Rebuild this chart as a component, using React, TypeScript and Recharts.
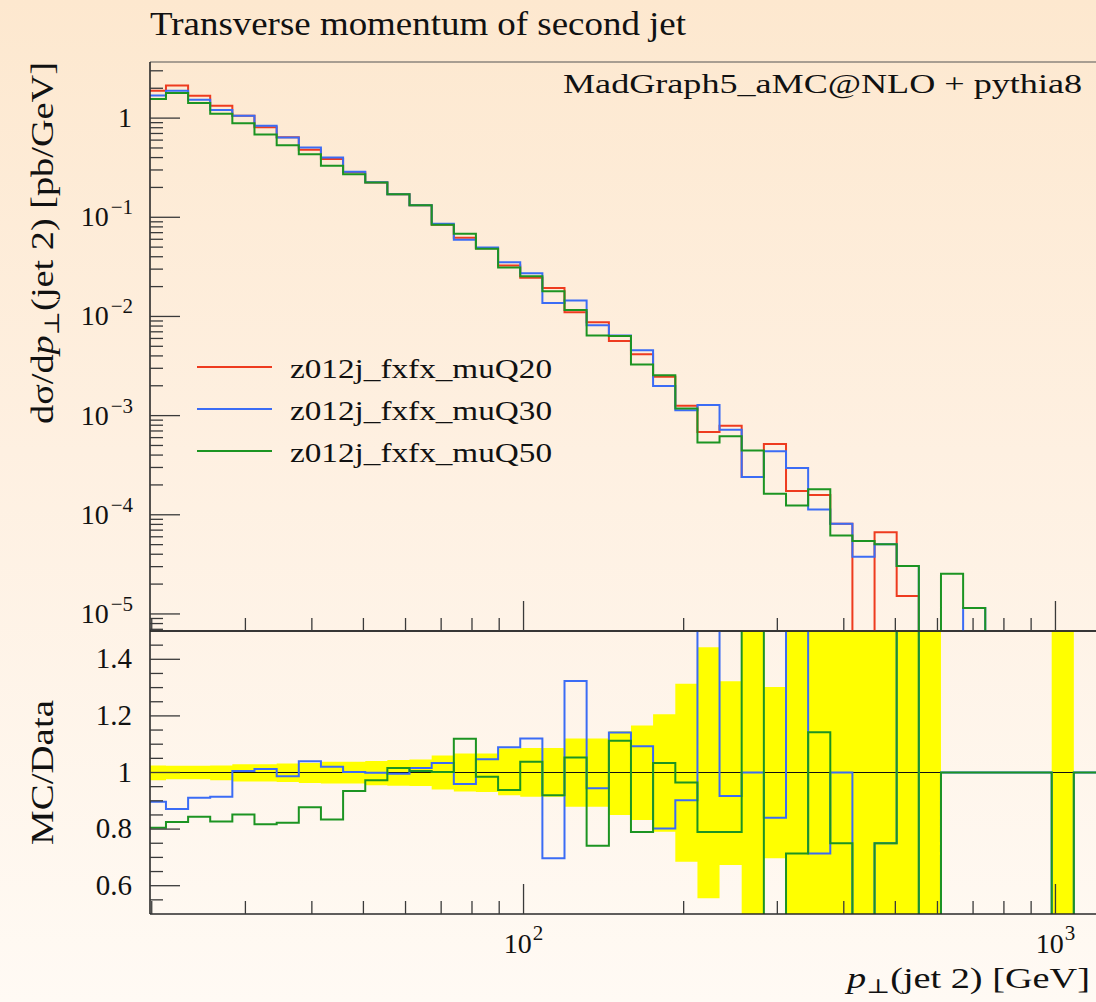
import React from 'react';
import { ComposedChart, Line, Area, XAxis, YAxis, ReferenceLine, Legend } from 'recharts';

// ---------------- data ----------------
// logarithmic bin edges of p_T(jet 2) [GeV] (43 bins, first one cut by the axis)
const binEdges = [
  19.85, 21.27, 23.41, 25.76, 28.35, 31.2, 34.35, 37.8, 41.6, 45.79, 50.4,
  55.46, 61.04, 67.19, 73.95, 81.37, 89.57, 98.58, 108.5, 119.4, 131.4,
  144.7, 159.2, 175.2, 192.9, 212.3, 233.6, 257.1, 283.0, 311.5, 342.8,
  377.3, 415.2, 457.0, 502.9, 553.5, 609.2, 670.5, 737.9, 812.1, 893.9,
  983.8, 1082.7, 1191.8,
];

// empty bins (drawn below the axis range)
const EMPTY = 1e-7;

// dsigma/dpT [pb/GeV]
const muQ20 = [
  1.89, 2.13, 1.68, 1.33, 1.055, 0.811, 0.643, 0.479, 0.388, 0.284, 0.224,
  0.171, 0.132, 0.0843, 0.0622, 0.0487, 0.0327, 0.0245, 0.0194, 0.011, 0.00872,
  0.00567, 0.00416, 0.00246, 0.00126, 0.000683, 0.00079, 0.00024, 0.000516, 0.000174, 0.000158,
  0.000081, EMPTY, 0.0000667, 0.0000152, EMPTY, EMPTY, EMPTY, EMPTY, EMPTY, EMPTY,
  EMPTY, EMPTY,
];
const muQ30 = [
  1.69, 1.89, 1.53, 1.21, 1.055, 0.836, 0.637, 0.505, 0.4, 0.287, 0.226,
  0.171, 0.132, 0.086, 0.0594, 0.0497, 0.0352, 0.0272, 0.0137, 0.0145, 0.00815,
  0.00644, 0.00457, 0.00199, 0.00113, 0.00128, 0.000722, 0.00024, 0.000436, 0.000296, 0.000113,
  0.000081, 0.0000377, 0.0000505, 0.0000305, EMPTY, EMPTY, 0.0000115, EMPTY, EMPTY, EMPTY,
  EMPTY, EMPTY,
];
const muQ50 = [
  1.56, 1.79, 1.42, 1.105, 0.89, 0.683, 0.534, 0.433, 0.33, 0.272, 0.224,
  0.171, 0.132, 0.0843, 0.0683, 0.0481, 0.0312, 0.0255, 0.018, 0.0116, 0.00644,
  0.00634, 0.00327, 0.00256, 0.00118, 0.000536, 0.000621, 0.000445, 0.000163, 0.000124, 0.000181,
  0.0000617, 0.0000545, 0.0000505, 0.0000305, EMPTY, 0.0000254, 0.0000115, EMPTY, EMPTY, EMPTY,
  EMPTY, EMPTY,
];

// MC/Data ratios
const ratioQ30 = [
  0.897, 0.871, 0.911, 0.914, 1.005, 1.012, 0.987, 1.04, 1.02, 1.002, 0.999,
  0.996, 1.016, 1.034, 0.959, 1.047, 1.089, 1.12, 0.697, 1.323, 0.944,
  1.141, 1.093, 0.802, 0.902, 1.87, 0.917, 1.0, 0.84, 1.7, 0.714,
  1.0, 0.0, 0.75, 2.0, 0.0, 1, 1, 1, 1, 1,
  0.0, 1,
];
const ratioQ50 = [
  0.805, 0.825, 0.844, 0.827, 0.852, 0.817, 0.822, 0.877, 0.834, 0.935, 0.973,
  1.016, 1.005, 1.002, 1.119, 0.985, 0.938, 1.038, 0.92, 1.053, 0.741,
  1.112, 0.79, 1.034, 0.965, 0.79, 0.79, 1.85, 0.32, 0.714, 1.142,
  0.75, 0.0, 0.75, 2.0, 0.0, 1, 1, 1, 1, 1,
  0.0, 1,
];

// reference uncertainty band (yellow)
const bandLow: (number | null)[] = [
  0.973, 0.976, 0.976, 0.973, 0.968, 0.968, 0.966, 0.963, 0.961, 0.961, 0.955,
  0.953, 0.952, 0.94, 0.933, 0.931, 0.92, 0.914, 0.914, 0.879, 0.879,
  0.85, 0.832, 0.791, 0.685, 0.556, 0.673, 0.3, 0.697, 0.3, 0.3,
  0.3, 0.3, 0.3, 0.3, 0.3, null, null, null, null, null,
  0.3, null,
];
const bandHigh: (number | null)[] = [
  1.025, 1.024, 1.024, 1.025, 1.029, 1.029, 1.032, 1.034, 1.038, 1.038, 1.041,
  1.044, 1.046, 1.06, 1.067, 1.067, 1.085, 1.087, 1.087, 1.12, 1.12,
  1.146, 1.166, 1.206, 1.314, 1.443, 1.322, 1.7, 1.302, 1.7, 1.7,
  1.7, 1.7, 1.7, 1.7, 1.7, null, null, null, null, null,
  1.7, null,
];

const seriesNames = ['z012j_fxfx_muQ20', 'z012j_fxfx_muQ30', 'z012j_fxfx_muQ50'];

// axis ticks
const xTicks = [20, 30, 40, 50, 60, 70, 80, 90, 100, 200, 300, 400, 500, 600, 700, 800, 900, 1000];
const xMajorTicks = [100, 1000];
const xMajorExps = ['2', '3'];
const yTopTicks = [
  3, 2, 1, 0.9, 0.8, 0.7, 0.6, 0.5, 0.4, 0.3, 0.2, 0.1, 0.09, 0.08, 0.07, 0.06, 0.05, 0.04, 0.03, 0.02,
  0.01, 0.009, 0.008, 0.007, 0.006, 0.005, 0.004, 0.003, 0.002,
  0.001, 0.0009, 0.0008, 0.0007, 0.0006, 0.0005, 0.0004, 0.0003, 0.0002,
  0.0001, 0.00009, 0.00008, 0.00007, 0.00006, 0.00005, 0.00004, 0.00003, 0.00002,
  0.00001, 0.000009, 0.000008, 0.000007,
];
const yTopMajor = [1, 0.1, 0.01, 0.001, 0.0001, 0.00001];
const yTopMajorExps = ['', '−1', '−2', '−3', '−4', '−5'];
const yRatioTicks = [0.55, 0.6, 0.65, 0.7, 0.75, 0.8, 0.85, 0.9, 0.95, 1.0, 1.05, 1.1, 1.15, 1.2, 1.25, 1.3, 1.35, 1.4, 1.45];
const yRatioMajor = [0.6, 0.8, 1.0, 1.2, 1.4];
const yRatioLabels = ['0.6', '0.8', '1', '1.2', '1.4'];

// ---------------- layout / style ----------------
const W = 1096;
const H = 1002;
const X_MIN = 19.85;
const X_MAX = 1191.8;
const Y_MIN = 6.73e-6;
const Y_MAX = 3.68;
const PLOT_LEFT = 150;
const TOP_Y0 = 62;
const TOP_Y1 = 631;
const RAT_Y1 = 914;
const SERIF = "'Liberation Serif', 'DejaVu Serif', serif";
const RED = '#ee3b1f';
const BLUE = '#3b6cf5';
const GREEN = '#1c9422';
const FRAME = '#2a2a2a';
const TICK = '#3a3a3a';
const INK = '#111';

type Row = { x: number; [k: string]: any };

function stepRows(cols: Record<string, any[]>): Row[] {
  const rows: Row[] = [];
  for (let i = 0; i < binEdges.length - 1; i++) {
    const a: Row = { x: binEdges[i] };
    const b: Row = { x: binEdges[i + 1] };
    for (const k of Object.keys(cols)) {
      a[k] = cols[k][i];
      b[k] = cols[k][i];
    }
    rows.push(a, b);
  }
  return rows;
}

const topRows = stepRows({ q20: muQ20, q30: muQ30, q50: muQ50 });
const ratioRows = stepRows({
  q30: ratioQ30,
  q50: ratioQ50,
  band: bandLow.map((lo, i) => (lo === null || bandHigh[i] === null ? null : [lo, bandHigh[i]])),
});

const near = (a: number, b: number) => Math.abs(a - b) < 1e-9 * Math.max(1, Math.abs(b));

// ---------------- tick renderers ----------------
function topYTick(props: any) {
  const y = props.y;
  const v = props.payload.value;
  const mi = yTopMajor.findIndex((m) => near(m, v));
  const len = mi >= 0 ? 30 : 13;
  const plain = mi >= 0 && yTopMajorExps[mi] === '';
  return (
    <g>
      <line x1={PLOT_LEFT} x2={PLOT_LEFT + len} y1={y} y2={y} stroke={TICK} strokeWidth={1.3} />
      {mi >= 0 && plain && (
        <text x={132} y={y + 9} textAnchor="end" fontFamily={SERIF} fontSize={28} fill={INK}>
          1
        </text>
      )}
      {mi >= 0 && !plain && (
        <text x={133} y={y + 9} textAnchor="end" fontFamily={SERIF} fontSize={28} fill={INK}>
          10
          <tspan dx={2} dy={-12} fontSize={21}>
            {yTopMajorExps[mi]}
          </tspan>
        </text>
      )}
    </g>
  );
}

function topXTick(props: any) {
  const x = props.x;
  const v = props.payload.value;
  const major = xMajorTicks.some((m) => near(m, v));
  const len = major ? 30 : 13;
  return <line x1={x} x2={x} y1={TOP_Y1} y2={TOP_Y1 - len} stroke={TICK} strokeWidth={1.3} />;
}

function ratioYTick(props: any) {
  const y = props.y;
  const v = props.payload.value;
  const mi = yRatioMajor.findIndex((m) => near(m, v));
  const len = mi >= 0 ? 30 : 13;
  return (
    <g>
      <line x1={PLOT_LEFT} x2={PLOT_LEFT + len} y1={y} y2={y} stroke={TICK} strokeWidth={1.3} />
      {mi >= 0 && (
        <text x={132} y={y + 9} textAnchor="end" fontFamily={SERIF} fontSize={29} fill={INK}>
          {yRatioLabels[mi]}
        </text>
      )}
    </g>
  );
}

function ratioXTick(props: any) {
  const x = props.x;
  const v = props.payload.value;
  const mi = xMajorTicks.findIndex((m) => near(m, v));
  const len = mi >= 0 ? 30 : 13;
  return (
    <g>
      <line x1={x} x2={x} y1={RAT_Y1} y2={RAT_Y1 - len} stroke={TICK} strokeWidth={1.3} />
      {mi >= 0 && (
        <text x={x} y={953} textAnchor="middle" fontFamily={SERIF} fontSize={28} fill={INK}>
          10
          <tspan dx={1} dy={-13} fontSize={21}>
            {xMajorExps[mi]}
          </tspan>
        </text>
      )}
    </g>
  );
}

function LegendBox() {
  const cols = [RED, BLUE, GREEN];
  return (
    <svg width={400} height={130} style={{ display: 'block' }}>
      {seriesNames.map((n, i) => (
        <g key={n}>
          <line x1={7} x2={82} y1={22 + i * 42} y2={22 + i * 42} stroke={cols[i]} strokeWidth={2.2} />
          <text x={100} y={33 + i * 42} fontFamily={SERIF} fontSize={28} fill={INK} textLength={262} lengthAdjust="spacingAndGlyphs">
            {n}
          </text>
        </g>
      ))}
    </svg>
  );
}

export default function App() {
  return (
    <div
      style={{
        position: 'absolute',
        left: 0,
        top: 0,
        width: W,
        height: H,
        overflow: 'hidden',
        background: 'linear-gradient(180deg, #fde8cf 0%, #fef0e1 45%, #fffaf4 100%)',
      }}
    >
      {/* ratio panel */}
      <div style={{ position: 'absolute', left: 0, top: 0 }}>
        <ComposedChart width={W} height={H} data={ratioRows} margin={{ top: TOP_Y1, right: 0, bottom: 0, left: 0 }}>
          <XAxis
            dataKey="x"
            type="number"
            scale="log"
            domain={[X_MIN, X_MAX]}
            allowDataOverflow
            ticks={xTicks}
            interval={0}
            height={H - RAT_Y1}
            axisLine={{ stroke: FRAME, strokeWidth: 1.6 }}
            tickLine={false}
            tick={ratioXTick}
          />
          <YAxis
            type="number"
            domain={[0.5, 1.5]}
            allowDataOverflow
            ticks={yRatioTicks}
            interval={0}
            width={PLOT_LEFT}
            axisLine={{ stroke: FRAME, strokeWidth: 1.6 }}
            tickLine={false}
            tick={ratioYTick}
          />
          <Area
            dataKey="band"
            type="linear"
            stroke="none"
            fill="#ffff00"
            fillOpacity={1}
            isAnimationActive={false}
            connectNulls={false}
            dot={false}
            activeDot={false}
          />
          <ReferenceLine y={1} stroke="#111" strokeWidth={1.2} />
          <ReferenceLine y={1.5} stroke={FRAME} strokeWidth={1.6} />
          <Line dataKey="q30" type="linear" stroke={BLUE} strokeWidth={2} dot={false} isAnimationActive={false} />
          <Line dataKey="q50" type="linear" stroke={GREEN} strokeWidth={2} dot={false} isAnimationActive={false} />
        </ComposedChart>
      </div>

      {/* main panel */}
      <div style={{ position: 'absolute', left: 0, top: 0 }}>
        <ComposedChart width={W} height={TOP_Y1 + 9} data={topRows} margin={{ top: TOP_Y0, right: 0, bottom: 0, left: 0 }}>
          <XAxis
            dataKey="x"
            type="number"
            scale="log"
            domain={[X_MIN, X_MAX]}
            allowDataOverflow
            ticks={xTicks}
            interval={0}
            height={9}
            axisLine={{ stroke: FRAME, strokeWidth: 1.6 }}
            tickLine={false}
            tick={topXTick}
          />
          <YAxis
            type="number"
            scale="log"
            domain={[Y_MIN, Y_MAX]}
            allowDataOverflow
            ticks={yTopTicks}
            interval={0}
            width={PLOT_LEFT}
            axisLine={{ stroke: FRAME, strokeWidth: 1.6 }}
            tickLine={false}
            tick={topYTick}
          />
          <ReferenceLine y={Y_MAX} stroke="#555" strokeWidth={1.2} />
          <Line name={seriesNames[0]} dataKey="q20" type="linear" stroke={RED} strokeWidth={2} dot={false} isAnimationActive={false} />
          <Line name={seriesNames[1]} dataKey="q30" type="linear" stroke={BLUE} strokeWidth={2} dot={false} isAnimationActive={false} />
          <Line name={seriesNames[2]} dataKey="q50" type="linear" stroke={GREEN} strokeWidth={2} dot={false} isAnimationActive={false} />
          <Legend
            layout="vertical"
            align="center"
            verticalAlign="middle"
            content={() => <LegendBox />}
            wrapperStyle={{ position: 'absolute', left: 190, top: 345, width: 400, height: 130 }}
          />
        </ComposedChart>
      </div>

      {/* titles and axis labels */}
      <svg width={W} height={H} style={{ position: 'absolute', left: 0, top: 0, pointerEvents: 'none' }}>
        <text x={150} y={35} fontFamily={SERIF} fontSize={33} fill={INK} textLength={536} lengthAdjust="spacingAndGlyphs">
          Transverse momentum of second jet
        </text>
        <text x={1082} y={93} textAnchor="end" fontFamily={SERIF} fontSize={28} fill={INK} textLength={519} lengthAdjust="spacingAndGlyphs">
          MadGraph5_aMC@NLO + pythia8
        </text>
        <text
          transform="translate(53,424) rotate(-90)"
          fontFamily={SERIF}
          fontSize={31}
          fill={INK}
          textLength={362}
          lengthAdjust="spacingAndGlyphs"
        >
          dσ/d<tspan fontStyle="italic">p</tspan>
          <tspan fontSize={21} dy={6}>⊥</tspan>
          <tspan dy={-6}>(jet 2) [pb/GeV]</tspan>
        </text>
        <text
          transform="translate(53,845) rotate(-90)"
          fontFamily={SERIF}
          fontSize={31}
          fill={INK}
          textLength={145}
          lengthAdjust="spacingAndGlyphs"
        >
          MC/Data
        </text>
        <text x={847} y={988} fontFamily={SERIF} fontSize={30} fill={INK} textLength={243} lengthAdjust="spacingAndGlyphs">
          <tspan fontStyle="italic">p</tspan>
          <tspan fontSize={20} dy={5}>⊥</tspan>
          <tspan dy={-5}>(jet 2) [GeV]</tspan>
        </text>
      </svg>
    </div>
  );
}
